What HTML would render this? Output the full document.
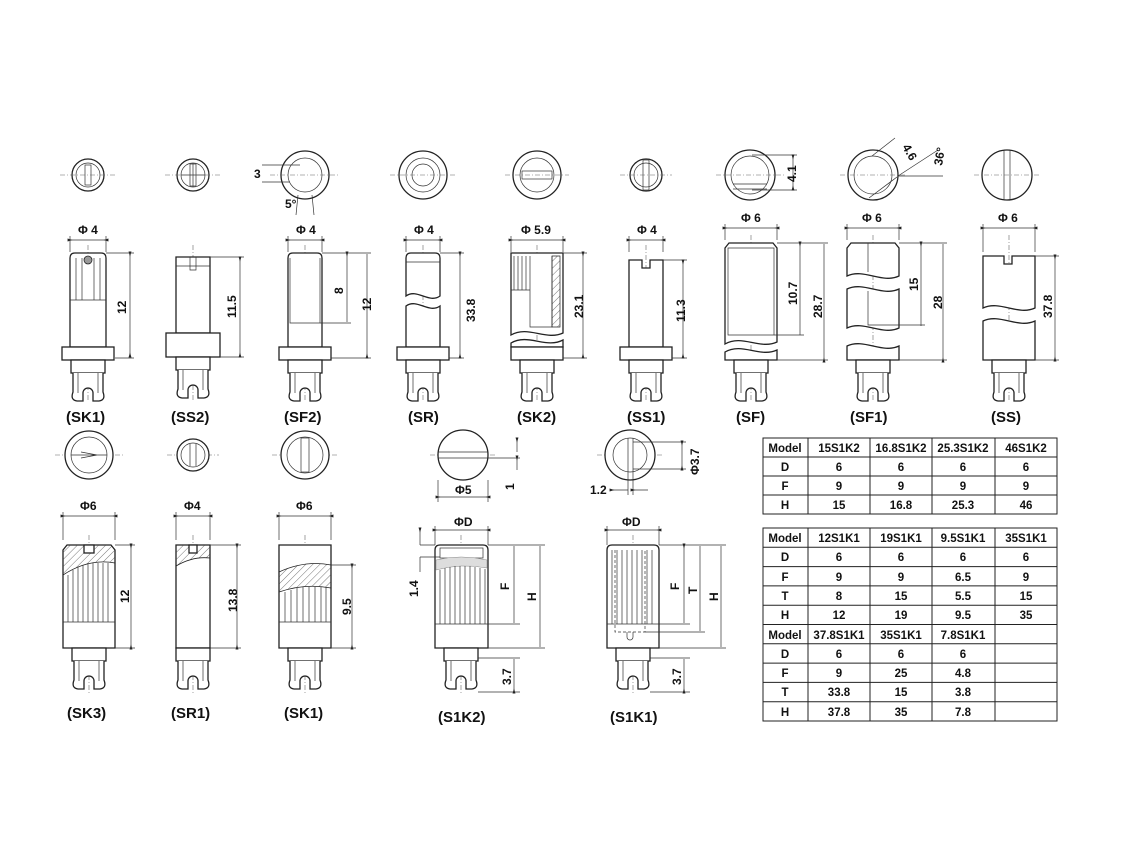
<!DOCTYPE html>
<html><head><meta charset="utf-8"><style>
html,body{margin:0;padding:0;background:#fff;width:1140px;height:855px;overflow:hidden}
svg{display:block}
text{font-family:"Liberation Sans",Arial,sans-serif;font-weight:bold;fill:#111}
.s{fill:#fff;stroke:#222;stroke-width:1.3}
.t{fill:none;stroke:#333;stroke-width:0.7}
.c{fill:none;stroke:#666;stroke-width:0.6;stroke-dasharray:5 2 1 2}
.d{stroke:#333;stroke-width:0.7;fill:none;marker-start:url(#a);marker-end:url(#a)}
.lb{font-size:15px}
.dm{font-size:12px}
.tb text{font-size:11.5px}
</style></head><body>
<svg width="1140" height="855" viewBox="0 0 1140 855">
<defs>
<marker id="a" viewBox="0 0 10 10" refX="5" refY="5" markerWidth="7" markerHeight="7" orient="auto-start-reverse"><path d="M0,5 L10,2 L10,8 z" fill="#222"/></marker>
<pattern id="h" width="5" height="5" patternUnits="userSpaceOnUse" patternTransform="rotate(45)"><path d="M0,0 V5" stroke="#555" stroke-width=".8"/></pattern>
<g id="fork">
<rect class="s" x="-17" y="0" width="34" height="13"/>
<path class="s" d="M-15,13 L-15,32 Q-18,40 -11,41 L-5,41 L-5,33 A5,5 0 0 1 5,33 L5,41 L11,41 Q18,40 15,32 L15,13"/>
<path class="t" d="M-10,13 V33 M10,13 V33"/>
</g>
<g id="flfork">
<rect class="s" x="-26" y="0" width="52" height="13"/>
<use href="#fork" y="13"/>
</g>
</defs>

<!-- top row end views -->
<g>
<circle class="s" cx="88" cy="175" r="16"/><circle class="t" cx="88" cy="175" r="12"/><rect class="t" x="85" y="165" width="6" height="20"/>
<circle class="s" cx="193" cy="175" r="16"/><circle class="t" cx="193" cy="175" r="12"/><path class="t" d="M181,175 H205 M193,163 V187"/><rect class="t" x="190" y="164" width="6" height="22"/>
<circle class="s" cx="305" cy="175" r="24"/><circle class="t" cx="305" cy="175" r="17"/><path class="t" d="M262,165 H300 M262,182 H290 M298,195 L296,215 M312,195 L314,215"/>
<text class="dm" x="254" y="178">3</text><text class="dm" x="285" y="208">5°</text>
<circle class="s" cx="423" cy="175" r="24"/><circle class="t" cx="423" cy="175" r="17"/><circle class="t" cx="423" cy="175" r="11"/>
<circle class="s" cx="537" cy="175" r="24"/><circle class="t" cx="537" cy="175" r="17"/><rect class="t" x="522" y="171" width="30" height="8"/>
<circle class="s" cx="646" cy="175" r="16"/><circle class="t" cx="646" cy="175" r="12"/><rect class="t" x="643" y="160" width="6" height="30"/>
<circle class="s" cx="750" cy="175" r="25"/><circle class="t" cx="750" cy="175" r="19"/><path class="t" d="M733,184 H767 M733,189 H767 M752,155 H797 M752,190 H797"/><path class="d" d="M793,157 V188"/><text class="dm" transform="translate(796,182) rotate(-90)">4.1</text>
<circle class="s" cx="873" cy="175" r="25"/><circle class="t" cx="873" cy="175" r="19"/><path class="t" d="M869,198 L897,177 M872,156 L895,138 M898,176 L943,176 M898,176 L938,150"/><text class="dm" transform="translate(902,147) rotate(60)">4.6</text><text class="dm" transform="translate(942,166) rotate(-80)">36°</text>
<circle class="s" cx="1007" cy="175" r="25"/><path class="t" d="M1004,150 V200 M1010,150 V200"/>
</g>

<!-- center lines -->
<g class="c">
<path d="M88,245 V400 M193,245 V400 M305,245 V400 M423,245 V400 M537,245 V400 M646,245 V400 M751,235 V400 M873,235 V400 M1009,235 V400"/>
<path d="M89,535 V695 M193,535 V695 M305,535 V695 M461,535 V695 M633,535 V695"/>
<path d="M60,175 H116 M165,175 H221 M270,175 H340 M390,175 H456 M505,175 H569 M620,175 H672 M716,175 H784 M840,175 H906 M974,175 H1040 M55,455 H123 M167,455 H219 M272,455 H338 M430,455 H496 M597,455 H663"/>
</g>

<!-- top row side views -->
<g>
<!-- SK1 -->
<text class="dm" x="78" y="234">Φ 4</text><path class="d" d="M70,240 H106"/><path class="t" d="M70,236 V252 M106,236 V252"/>
<path class="s" d="M70,258 Q70,253 75,253 H101 Q106,253 106,258 V347 H70 Z"/><path class="t" d="M70,300 H106 M76,258 V300 M82,258 V300 M94,258 V300 M100,258 V300"/><circle cx="88" cy="260" r="4" fill="#999" stroke="#222" stroke-width=".8"/>
<use href="#flfork" x="88" y="347"/><path class="d" d="M130,254 V355"/><path class="t" d="M106,253 H134 M115,358 H134"/><text class="dm" transform="translate(126,314) rotate(-90)">12</text>
<text class="lb" x="66" y="422">(SK1)</text>
<!-- SS2 -->
<path class="s" d="M176,257 H210 V333 H176 Z"/><path class="t" d="M176,266 H210 M190,257 V270 H196 V257"/><rect class="s" x="166" y="333" width="54" height="24"/><use href="#fork" x="193" y="357"/>
<path class="d" d="M240,259 V355"/><path class="t" d="M210,257 H244 M220,357 H244"/><text class="dm" transform="translate(236,318) rotate(-90)">11.5</text>
<text class="lb" x="171" y="422">(SS2)</text>
<!-- SF2 -->
<text class="dm" x="296" y="234">Φ 4</text><path class="d" d="M288,240 H322"/><path class="t" d="M288,236 V252 M322,236 V252"/>
<path class="s" d="M288,258 Q288,253 293,253 H317 Q322,253 322,258 V347 H288 Z"/><path class="t" d="M290,258 V323 H320 V258"/>
<use href="#flfork" x="305" y="347"/><path class="d" d="M347,254 V322 M367,254 V356"/><path class="t" d="M322,253 H371 M320,323 H351 M331,358 H371"/>
<text class="dm" transform="translate(343,294) rotate(-90)">8</text><text class="dm" transform="translate(371,311) rotate(-90)">12</text>
<text class="lb" x="284" y="422">(SF2)</text>
<!-- SR -->
<text class="dm" x="414" y="234">Φ 4</text><path class="d" d="M406,240 H440"/><path class="t" d="M406,236 V252 M440,236 V252"/>
<path class="s" d="M406,258 Q406,253 411,253 H435 Q440,253 440,258 V296 C429,304 417,288 406,296 Z"/><path class="s" d="M406,306 C417,298 429,314 440,306 V347 H406 Z"/><path class="t" d="M406,262 H440"/>
<use href="#flfork" x="423" y="347"/><path class="d" d="M460,254 V356"/><path class="t" d="M440,253 H464 M449,358 H464"/><text class="dm" transform="translate(475,322) rotate(-90)">33.8</text>
<text class="lb" x="408" y="422">(SR)</text>
<!-- SK2 -->
<text class="dm" x="521" y="234">Φ 5.9</text><path class="d" d="M511,240 H563"/><path class="t" d="M511,236 V252 M563,236 V252"/>
<path class="s" d="M511,253 H563 V333 C546,341 528,325 511,335 Z"/><path class="t" d="M514,256 V290 M518,256 V290 M522,256 V290 M526,256 V290 M530,256 V290 M511,290 H530 V327 H552 V256"/><path d="M552,256 H560 V327 H552 Z" fill="url(#h)" stroke="#222" stroke-width=".7"/>
<path class="s" d="M511,343 C528,333 546,349 563,340 V347 H511 Z"/>
<use href="#flfork" x="537" y="347"/><path class="d" d="M583,254 V356"/><path class="t" d="M563,253 H587 M563,358 H587"/><text class="dm" transform="translate(583,318) rotate(-90)">23.1</text>
<text class="lb" x="517" y="422">(SK2)</text>
<!-- SS1 -->
<text class="dm" x="637" y="234">Φ 4</text><path class="d" d="M629,240 H663"/><path class="t" d="M629,236 V252 M663,236 V252"/>
<path class="s" d="M629,260 H642 V268 H650 V260 H663 V347 H629 Z"/>
<use href="#flfork" x="646" y="347"/><path class="d" d="M683,262 V356"/><path class="t" d="M663,260 H687 M672,358 H687"/><text class="dm" transform="translate(685,322) rotate(-90)">11.3</text>
<text class="lb" x="627" y="422">(SS1)</text>
<!-- SF -->
<text class="dm" x="741" y="222">Φ 6</text><path class="d" d="M725,228 H777"/><path class="t" d="M725,224 V240 M777,224 V240"/>
<path class="s" d="M725,248 L729,243 H773 L777,248 V342 C760,350 742,334 725,344 Z"/><path class="t" d="M728,248 H774 V335 H728 Z"/><path class="s" d="M725,352 C742,342 760,358 777,350 V360 H725 Z"/>
<use href="#fork" x="751" y="360"/><path class="d" d="M800,244 V335 M824,244 V360"/><path class="t" d="M777,243 H828 M774,335 H804 M777,360 H828"/>
<text class="dm" transform="translate(797,305) rotate(-90)">10.7</text><text class="dm" transform="translate(822,318) rotate(-90)">28.7</text>
<text class="lb" x="736" y="422">(SF)</text>
<!-- SF1 -->
<text class="dm" x="862" y="222">Φ 6</text><path class="d" d="M847,228 H899"/><path class="t" d="M847,224 V240 M899,224 V240"/>
<path class="s" d="M847,248 L851,243 H895 L899,248 V276 C882,284 864,268 847,276 Z"/><path class="s" d="M847,289 C864,281 882,297 899,289 V328 C882,336 864,320 847,328 Z"/><path class="s" d="M847,346 C864,338 882,354 899,346 V360 H847 Z"/><path class="t" d="M868,243 V272 M868,291 V325 H899"/>
<use href="#fork" x="873" y="360"/><path class="d" d="M921,244 V326 M943,244 V360"/><path class="t" d="M899,243 H947 M899,325 H925 M899,360 H947"/>
<text class="dm" transform="translate(918,291) rotate(-90)">15</text><text class="dm" transform="translate(942,309) rotate(-90)">28</text>
<text class="lb" x="850" y="422">(SF1)</text>
<!-- SS -->
<text class="dm" x="998" y="222">Φ 6</text><path class="d" d="M983,228 H1035"/><path class="t" d="M983,224 V252 M1035,224 V252"/>
<path class="s" d="M983,256 H1004 V264 H1012 V256 H1035 V308 C1018,316 1000,300 983,308 Z"/><path class="s" d="M983,321 C1000,313 1018,329 1035,321 V360 H983 Z"/>
<use href="#fork" x="1009" y="360"/><path class="d" d="M1055,257 V359"/><path class="t" d="M1035,256 H1059 M1035,360 H1059"/><text class="dm" transform="translate(1052,318) rotate(-90)">37.8</text>
<text class="lb" x="991" y="422">(SS)</text>
</g>

<!-- bottom row end views -->
<g>
<circle class="s" cx="89" cy="455" r="24"/><circle class="t" cx="89" cy="455" r="18"/><path class="t" d="M71,455 H107 M81,452 L97,455 L81,458"/>
<circle class="s" cx="193" cy="455" r="16"/><circle class="t" cx="193" cy="455" r="12"/><path class="t" d="M190,444 V466 M196,444 V466"/>
<circle class="s" cx="305" cy="455" r="24"/><circle class="t" cx="305" cy="455" r="18"/><rect class="t" x="301" y="438" width="8" height="34"/>
<circle class="s" cx="463" cy="455" r="25"/><path class="t" d="M438,452 H488 M438,458 H488 M463,458 H520"/><path class="d" d="M517,440 V452 M517,470 V458"/><text class="dm" transform="translate(514,490) rotate(-90)">1</text>
<path class="d" d="M438,497 H488"/><path class="t" d="M438,480 V502 M488,480 V502"/><text class="dm" x="455" y="494">Φ5</text>
<circle class="s" cx="630" cy="455" r="25"/><circle class="t" cx="630" cy="455" r="17"/><path class="t" d="M628,438 V495 M633,438 V495 M633,442 H686 M633,469 H686"/><path class="d" d="M682,443 V468"/><text class="dm" transform="translate(699,475) rotate(-90)">Φ3.7</text>
<path class="d" d="M612,490 H628 M648,490 H633"/><text class="dm" x="590" y="494">1.2</text>
</g>

<!-- bottom row side views -->
<g>
<!-- SK3 -->
<text class="dm" x="80" y="510">Φ6</text><path class="d" d="M63,516 H115"/><path class="t" d="M63,512 V540 M115,512 V540"/>
<path class="s" d="M63,550 L67,545 H111 L115,550 V648 H63 Z"/><path d="M63,550 L67,545 H111 L115,550 V563 Q89,558 63,575 Z" fill="url(#h)" stroke="#222" stroke-width=".8"/><rect class="s" x="84" y="545" width="10" height="8"/>
<path class="t" d="M63,622 H115 M68,575 V622 M73,570 V622 M78,567 V622 M83,565 V622 M88,564 V622 M93,563 V622 M98,563 V622 M103,563 V622 M108,563 V622"/>
<use href="#fork" x="89" y="648"/><path class="d" d="M131,546 V647"/><path class="t" d="M115,545 H135 M115,648 H135"/><text class="dm" transform="translate(129,603) rotate(-90)">12</text>
<text class="lb" x="67" y="718">(SK3)</text>
<!-- SR1 -->
<text class="dm" x="184" y="510">Φ4</text><path class="d" d="M176,516 H210"/><path class="t" d="M176,512 V540 M210,512 V540"/>
<path class="s" d="M176,545 H210 V648 H176 Z"/><path d="M176,545 H210 V558 Q193,556 176,566 Z" fill="url(#h)" stroke="#222" stroke-width=".8"/><rect class="s" x="189" y="545" width="8" height="8"/>
<use href="#fork" x="193" y="648"/><path class="d" d="M237,546 V647"/><path class="t" d="M210,545 H241 M210,648 H241"/><text class="dm" transform="translate(237,612) rotate(-90)">13.8</text>
<text class="lb" x="171" y="718">(SR1)</text>
<!-- SK1 b -->
<text class="dm" x="296" y="510">Φ6</text><path class="d" d="M279,516 H331"/><path class="t" d="M279,512 V540 M331,512 V540"/>
<path class="s" d="M279,545 H331 V648 H279 Z"/><path d="M279,572 Q305,560 331,565 V588 Q305,583 279,592 Z" fill="url(#h)" stroke="#222" stroke-width=".8"/>
<path class="t" d="M279,622 H331 M285,592 V622 M291,590 V622 M297,588 V622 M303,587 V622 M309,587 V622 M315,587 V622 M321,587 V622 M326,587 V622"/>
<use href="#fork" x="305" y="648"/><path class="d" d="M352,566 V647"/><path class="t" d="M331,565 H356 M331,648 H356"/><text class="dm" transform="translate(351,615) rotate(-90)">9.5</text>
<text class="lb" x="284" y="718">(SK1)</text>
<!-- S1K2 -->
<text class="dm" x="454" y="526">ΦD</text><path class="d" d="M435,530 H488"/><path class="t" d="M435,526 V545 M488,526 V545"/>
<path class="s" d="M435,550 Q435,545 440,545 H483 Q488,545 488,550 V648 H435 Z"/><rect class="t" x="440" y="548" width="43" height="10"/><path d="M436,560 Q461,554 487,560 V568 Q461,563 436,570 Z" fill="#ddd" stroke="#888" stroke-width=".5"/>
<path class="t" d="M435,624 H488 M440,570 V624 M445,568 V624 M450,567 V624 M455,566 V624 M460,566 V624 M465,566 V624 M470,566 V624 M475,567 V624 M480,568 V624 M485,569 V624"/>
<use href="#fork" x="461" y="648"/>
<path class="t" d="M420,545 H435 M420,557 H440 M488,545 H545 M488,624 H520 M488,648 H545 M478,658 H520 M478,692 H520"/><path class="d" d="M420,530 V545 M420,572 V557 M514,546 V623 M540,546 V647 M514,659 V691"/>
<text class="dm" transform="translate(418,597) rotate(-90)">1.4</text><text class="dm" transform="translate(509,590) rotate(-90)">F</text><text class="dm" transform="translate(536,601) rotate(-90)">H</text><text class="dm" transform="translate(511,685) rotate(-90)">3.7</text>
<text class="lb" x="438" y="722">(S1K2)</text>
<!-- S1K1 -->
<text class="dm" x="622" y="526">ΦD</text><path class="d" d="M607,530 H659"/><path class="t" d="M607,526 V545 M659,526 V545"/>
<path class="s" d="M607,550 Q607,545 612,545 H654 Q659,545 659,550 V648 H607 Z"/>
<path class="t" d="M607,624 H659 M612,550 V624 M617,550 V624 M622,550 V624 M627,550 V624 M632,550 V624 M637,550 V624 M642,550 V624 M647,550 V624 M652,550 V624"/><path class="t" d="M615,550 V632 H645 V550" stroke-dasharray="3 2"/><path class="t" d="M627,632 V637 A3,3 0 0 0 633,637 V632"/>
<use href="#fork" x="633" y="648"/>
<path class="t" d="M659,545 H726 M659,624 H690 M645,632 H705 M659,648 H726 M650,658 H690 M650,692 H690"/><path class="d" d="M684,546 V623 M700,546 V631 M721,546 V647 M684,659 V691"/>
<text class="dm" transform="translate(679,590) rotate(-90)">F</text><text class="dm" transform="translate(697,594) rotate(-90)">T</text><text class="dm" transform="translate(718,601) rotate(-90)">H</text><text class="dm" transform="translate(681,685) rotate(-90)">3.7</text>
<text class="lb" x="610" y="722">(S1K1)</text>
</g>

<!-- tables -->
<g class="tb">
<g fill="none" stroke="#222" stroke-width="1">
<rect x="763" y="438" width="294" height="76"/>
<path d="M763,457 H1057 M763,476 H1057 M763,495 H1057 M808,438 V514 M870,438 V514 M932,438 V514 M995,438 V514"/>
<rect x="763" y="528" width="294" height="193"/>
<path d="M763,547.3 H1057 M763,566.6 H1057 M763,585.9 H1057 M763,605.2 H1057 M763,624.5 H1057 M763,643.8 H1057 M763,663.1 H1057 M763,682.4 H1057 M763,701.7 H1057 M808,528 V721 M870,528 V721 M932,528 V721 M995,528 V721"/>
</g>
<g text-anchor="middle">
<text x="785" y="452">Model</text><text x="839" y="452">15S1K2</text><text x="901" y="452">16.8S1K2</text><text x="963" y="452">25.3S1K2</text><text x="1026" y="452">46S1K2</text>
<text x="785" y="471">D</text><text x="839" y="471">6</text><text x="901" y="471">6</text><text x="963" y="471">6</text><text x="1026" y="471">6</text>
<text x="785" y="490">F</text><text x="839" y="490">9</text><text x="901" y="490">9</text><text x="963" y="490">9</text><text x="1026" y="490">9</text>
<text x="785" y="509">H</text><text x="839" y="509">15</text><text x="901" y="509">16.8</text><text x="963" y="509">25.3</text><text x="1026" y="509">46</text>

<text x="785" y="542">Model</text><text x="839" y="542">12S1K1</text><text x="901" y="542">19S1K1</text><text x="963" y="542">9.5S1K1</text><text x="1026" y="542">35S1K1</text>
<text x="785" y="561">D</text><text x="839" y="561">6</text><text x="901" y="561">6</text><text x="963" y="561">6</text><text x="1026" y="561">6</text>
<text x="785" y="581">F</text><text x="839" y="581">9</text><text x="901" y="581">9</text><text x="963" y="581">6.5</text><text x="1026" y="581">9</text>
<text x="785" y="600">T</text><text x="839" y="600">8</text><text x="901" y="600">15</text><text x="963" y="600">5.5</text><text x="1026" y="600">15</text>
<text x="785" y="619">H</text><text x="839" y="619">12</text><text x="901" y="619">19</text><text x="963" y="619">9.5</text><text x="1026" y="619">35</text>
<text x="785" y="639">Model</text><text x="839" y="639">37.8S1K1</text><text x="901" y="639">35S1K1</text><text x="963" y="639">7.8S1K1</text>
<text x="785" y="658">D</text><text x="839" y="658">6</text><text x="901" y="658">6</text><text x="963" y="658">6</text>
<text x="785" y="677">F</text><text x="839" y="677">9</text><text x="901" y="677">25</text><text x="963" y="677">4.8</text>
<text x="785" y="696">T</text><text x="839" y="696">33.8</text><text x="901" y="696">15</text><text x="963" y="696">3.8</text>
<text x="785" y="716">H</text><text x="839" y="716">37.8</text><text x="901" y="716">35</text><text x="963" y="716">7.8</text>
</g>
</g>
</svg>
</body></html>
